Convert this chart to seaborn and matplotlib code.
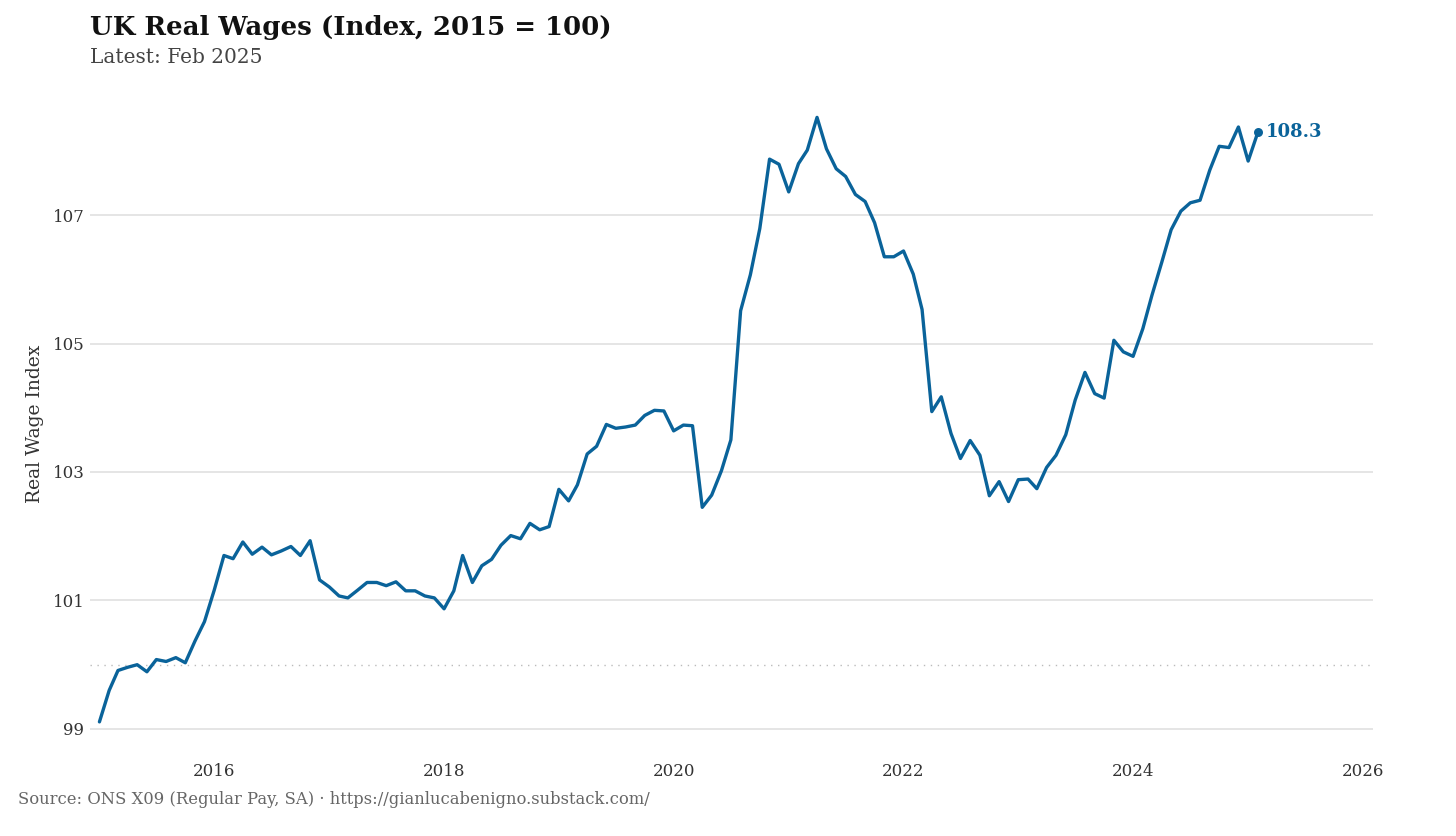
import numpy as np
import pandas as pd
import matplotlib
matplotlib.use("Agg")
import matplotlib.pyplot as plt
import matplotlib.dates as mdates
import seaborn as sns

# ---- data ----
start_month = "2015-01-01"
real_wage_index = [
    99.11, 99.60, 99.91, 99.96, 100.00, 99.89, 100.08, 100.05, 100.11, 100.03, 100.37, 100.67,
    101.16, 101.70, 101.65, 101.91, 101.72, 101.83, 101.71, 101.77, 101.84, 101.70, 101.93, 101.32,
    101.21, 101.07, 101.04, 101.16, 101.28, 101.28, 101.23, 101.29, 101.15, 101.15, 101.07, 101.04,
    100.87, 101.15, 101.70, 101.28, 101.54, 101.64, 101.86, 102.01, 101.96, 102.20, 102.10, 102.15,
    102.73, 102.55, 102.80, 103.28, 103.40, 103.74, 103.68, 103.70, 103.73, 103.88, 103.96, 103.95,
    103.64, 103.73, 103.72, 102.45, 102.64, 103.02, 103.50, 105.51, 106.07, 106.79, 107.87, 107.79,
    107.36, 107.80, 108.01, 108.52, 108.03, 107.72, 107.60, 107.32, 107.21, 106.88, 106.35, 106.35,
    106.44, 106.08, 105.53, 103.94, 104.17, 103.60, 103.21, 103.49, 103.26, 102.63, 102.85, 102.54,
    102.88, 102.89, 102.74, 103.07, 103.26, 103.58, 104.12, 104.55, 104.22, 104.15, 105.05, 104.87,
    104.80, 105.23, 105.75, 106.26, 106.77, 107.06, 107.19, 107.23, 107.70, 108.07, 108.05, 108.37,
    107.84, 108.29,
]
y_ticks = [99, 101, 103, 105, 107]
x_tick_years = [2016, 2018, 2020, 2022, 2024, 2026]
title = "UK Real Wages (Index, 2015 = 100)"
subtitle = "Latest: Feb 2025"
caption = "Source: ONS X09 (Regular Pay, SA) \u00b7 https://gianlucabenigno.substack.com/"
y_label = "Real Wage Index"

dates = pd.date_range(start_month, periods=len(real_wage_index), freq="MS")
df = pd.DataFrame({"date": dates, "value": real_wage_index})

# ---- style ----
sns.set_theme(style="white")
FONT = ["DejaVu Serif"]
plt.rcParams["font.family"] = FONT
BLUE = "#0A639A"
GRID = "#DEDEDE"
TEXT = "#333333"

fig = plt.figure(figsize=(14.56, 8.36), dpi=100)
ax = fig.add_axes([90 / 1456, 1 - 745 / 836, (1373 - 90) / 1456, (745 - 102.6) / 836])

sns.lineplot(data=df, x="date", y="value", ax=ax, color=BLUE, linewidth=2.4)

# gridlines & reference line
for t in y_ticks:
    ax.axhline(t, color=GRID, linewidth=1.1, zorder=0)
ax.axhline(100, color="#BBBBBB", linewidth=1.0, linestyle=(0, (1, 4)), zorder=0)

# end point + label
last_date = df["date"].iloc[-1]
last_val = df["value"].iloc[-1]
ax.scatter([last_date], [last_val], s=42, color=BLUE, zorder=5, linewidths=0)
ax.annotate(f"{last_val:.1f}", xy=(last_date, last_val), xytext=(6, 0),
            textcoords="offset points", va="center", ha="left",
            fontsize=13, fontweight="bold", color=BLUE)

ax.set_xlim(pd.Timestamp("2014-12-02"), pd.Timestamp("2026-02-02"))
ax.set_ylim(98.75, 108.75)
ax.set_yticks(y_ticks)
ax.set_xticks([pd.Timestamp(f"{y}-01-01") for y in x_tick_years])
ax.xaxis.set_major_formatter(mdates.DateFormatter("%Y"))
ax.tick_params(axis="both", length=0, labelsize=12, labelcolor=TEXT)
ax.tick_params(axis="x", pad=13)
ax.tick_params(axis="y", pad=4)
ax.set_xlabel("")
ax.set_ylabel(y_label, fontsize=13.5, color=TEXT, labelpad=6)
for s in ax.spines.values():
    s.set_visible(False)
ax.grid(False)

fig.text(90 / 1456, 1 - 15 / 836, title, fontsize=18.7, fontweight="bold",
         color="#111111", ha="left", va="top")
fig.text(90 / 1456, 1 - 48 / 836, subtitle, fontsize=14.5, color="#444444",
         ha="left", va="top")
fig.text(18 / 1456, 1 - 799 / 836, caption, fontsize=11.75, color="#666666",
         ha="left", va="center")

fig.savefig("out.png", dpi=100, facecolor="white")
